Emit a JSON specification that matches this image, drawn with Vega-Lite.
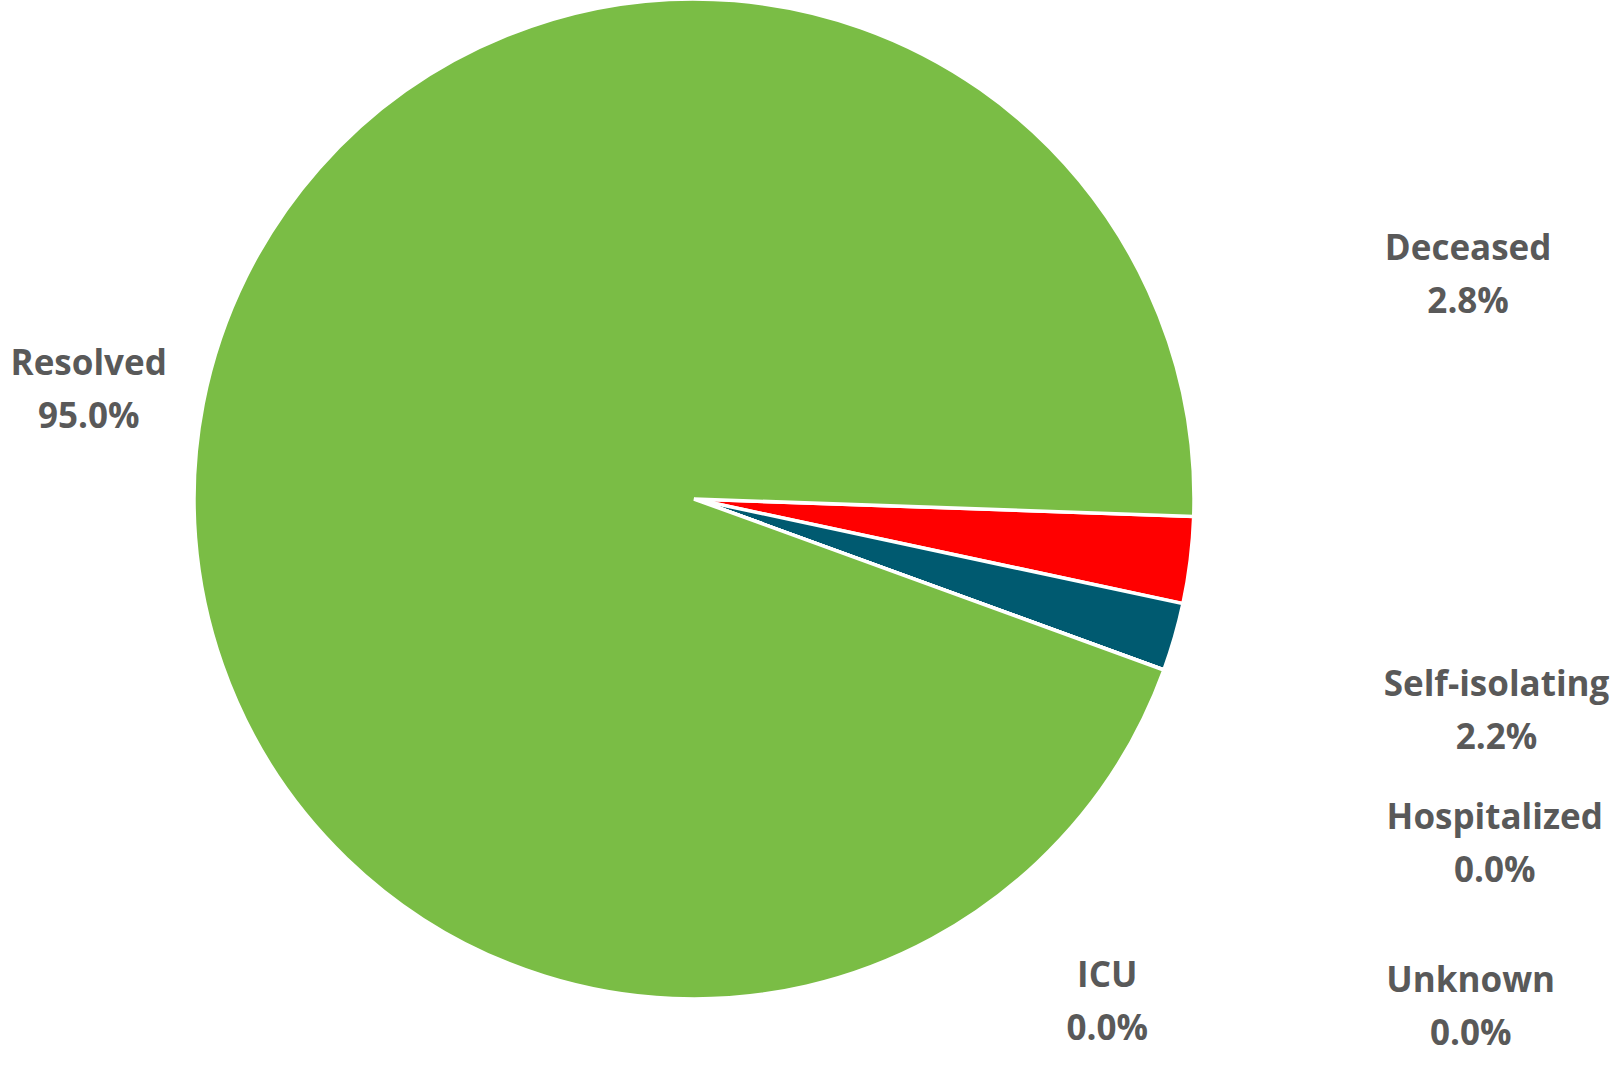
{
  "$schema": "https://vega.github.io/schema/vega-lite/v6.json",
  "width": 1388,
  "height": 998,
  "autosize": "none",
  "padding": {"left": 0, "right": 232, "top": 0, "bottom": 67},
  "background": "white",
  "view": {"stroke": null},
  "data": {
    "values": [
      {"category": "Deceased", "share": 2.8, "ord": 1},
      {"category": "Self-isolating", "share": 2.2, "ord": 2},
      {"category": "Hospitalized", "share": 0.0, "ord": 3},
      {"category": "ICU", "share": 0.0, "ord": 4},
      {"category": "Unknown", "share": 0.0, "ord": 5},
      {"category": "Resolved", "share": 95.0, "ord": 6}
    ]
  },
  "transform": [
    {"calculate": "datum.category + '\\n' + format(datum.share / 100, '.1%')", "as": "label"}
  ],
  "encoding": {
    "theta": {"field": "share", "type": "quantitative", "stack": true, "scale": {"range": [1.6057, 7.8889]}},
    "order": {"field": "ord", "type": "quantitative"}
  },
  "layer": [
    {
      "mark": {"type": "arc", "radius": 500, "stroke": "white", "strokeWidth": 3.5},
      "encoding": {
        "color": {
          "field": "category", "type": "nominal", "legend": null,
          "scale": {
            "domain": ["Deceased", "Self-isolating", "Hospitalized", "ICU", "Unknown", "Resolved"],
            "range": ["#FF0000", "#005A70", "#4472C4", "#A5A5A5", "#FFC000", "#7ABD45"]
          }
        }
      }
    },
    {
      "mark": {"type": "text", "radius": 806, "thetaOffset": -0.405, "dy": -26, "font": "Open Sans", "fontWeight": "bold", "fontSize": 35, "color": "#595959", "lineBreak": "\n", "lineHeight": 53, "align": "center", "baseline": "middle"},
      "encoding": {"detail": {"field": "category"}, "text": {"condition": {"test": "datum.category === 'Deceased'", "field": "label"}, "value": ""}}
    },
    {
      "mark": {"type": "text", "radius": 830, "thetaOffset": -0.022, "dy": -26, "font": "Open Sans", "fontWeight": "bold", "fontSize": 35, "color": "#595959", "lineBreak": "\n", "lineHeight": 53, "align": "center", "baseline": "middle"},
      "encoding": {"detail": {"field": "category"}, "text": {"condition": {"test": "datum.category === 'Self-isolating'", "field": "label"}, "value": ""}}
    },
    {
      "mark": {"type": "text", "radius": 872, "thetaOffset": 0.058, "dy": -26, "font": "Open Sans", "fontWeight": "bold", "fontSize": 35, "color": "#595959", "lineBreak": "\n", "lineHeight": 53, "align": "center", "baseline": "middle"},
      "encoding": {"detail": {"field": "category"}, "text": {"condition": {"test": "datum.category === 'Hospitalized'", "field": "label"}, "value": ""}}
    },
    {
      "mark": {"type": "text", "radius": 651, "thetaOffset": 0.534, "dy": -26, "font": "Open Sans", "fontWeight": "bold", "fontSize": 35, "color": "#595959", "lineBreak": "\n", "lineHeight": 53, "align": "center", "baseline": "middle"},
      "encoding": {"detail": {"field": "category"}, "text": {"condition": {"test": "datum.category === 'ICU'", "field": "label"}, "value": ""}}
    },
    {
      "mark": {"type": "text", "radius": 928, "thetaOffset": 0.23, "dy": -26, "font": "Open Sans", "fontWeight": "bold", "fontSize": 35, "color": "#595959", "lineBreak": "\n", "lineHeight": 53, "align": "center", "baseline": "middle"},
      "encoding": {"detail": {"field": "category"}, "text": {"condition": {"test": "datum.category === 'Unknown'", "field": "label"}, "value": ""}}
    },
    {
      "mark": {"type": "text", "radius": 615, "thetaOffset": -0.014, "dy": -26, "font": "Open Sans", "fontWeight": "bold", "fontSize": 35, "color": "#595959", "lineBreak": "\n", "lineHeight": 53, "align": "center", "baseline": "middle"},
      "encoding": {"detail": {"field": "category"}, "text": {"condition": {"test": "datum.category === 'Resolved'", "field": "label"}, "value": ""}}
    }
  ]
}
